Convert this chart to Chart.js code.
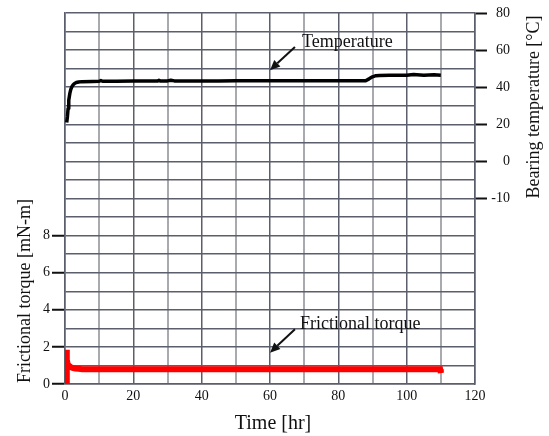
<!DOCTYPE html>
<html><head><meta charset="utf-8">
<script src="https://cdn.jsdelivr.net/npm/chart.js@4/dist/chart.umd.min.js"></script>
<style>html,body{margin:0;padding:0;background:#fff}#wrap{width:549px;height:436px}</style>
</head><body><div id="wrap"><canvas id="c" width="549" height="436"></canvas></div>
<script>
// ---- data ----
const tempTime  = [0.5, 0.7, 0.9, 1.1, 1.4, 1.7, 2.0, 2.4, 2.8, 3.3, 4.0, 5.0, 8, 10, 10.5, 11, 15, 20, 25, 27, 27.5, 28, 30, 31, 32, 35, 40, 45, 50, 55, 60, 65, 70, 75, 80, 85, 88, 89, 90, 91, 92, 95, 100, 102, 105, 108, 110];
const tempValue = [21, 24, 28.5, 33, 36.5, 38.8, 40.2, 41.3, 42, 42.5, 42.8, 43, 43.1, 43.2, 43.6, 43.2, 43.2, 43.3, 43.3, 43.3, 43.7, 43.3, 43.4, 43.7, 43.4, 43.4, 43.4, 43.4, 43.5, 43.5, 43.5, 43.5, 43.5, 43.5, 43.5, 43.5, 43.5, 44.5, 45.6, 46.2, 46.3, 46.4, 46.5, 46.8, 46.5, 46.7, 46.5];
const torqueTime  = [0.45, 0.5, 0.55, 0.7, 0.9, 1.2, 1.6, 2.2, 3, 4, 5, 7, 10, 15, 20, 25, 30, 35, 40, 45, 50, 55, 60, 65, 70, 75, 80, 85, 90, 95, 100, 105, 109.8, 110];
const torqueValue = [0, 1.85, 1.3, 1.15, 1.05, 0.98, 0.92, 0.87, 0.84, 0.82, 0.80, 0.80, 0.79, 0.80, 0.79, 0.80, 0.79, 0.79, 0.80, 0.79, 0.79, 0.79, 0.79, 0.79, 0.80, 0.79, 0.79, 0.79, 0.79, 0.80, 0.80, 0.79, 0.79, 0.60];
const xTickLabelValues = [0, 20, 40, 60, 80, 100, 120];
const torqueTickValues = [0, 2, 4, 6, 8];
const tempTickValues = [80, 60, 40, 20, 0, -20];
const tempTickLabels = ['80', '60', '40', '20', '0', '-10'];
const seriesNames = ['Temperature', 'Frictional torque'];
const axisTitles = {x: 'Time [hr]', torque: 'Frictional torque [mN-m]', temp: 'Bearing temperature [\u00B0C]'};

// ---- styling / annotation layout ----
const FONT = '"Liberation Serif", "Times New Roman", serif';
const DARK = '#5b5f6b', LIGHT = '#a9aab0', INK = '#111';
const annotations = [
  {text: seriesNames[0], axis: 'yT', tx: 69.4, ty: 64, from: [67.3, 61.7], to: [60, 49.2]},
  {text: seriesNames[1], axis: 'yL', tx: 68.8, ty: 3.23, from: [67.3, 2.95], to: [60, 1.69]}
];

const tempData = tempTime.map((t, i) => ({x: t, y: tempValue[i]}));
const torqueData = torqueTime.map((t, i) => ({x: t, y: torqueValue[i]}));

const drawExtras = {
  id: 'extras',
  afterDraw(chart) {
    const ctx = chart.ctx, sx = chart.scales.x;
    ctx.save();
    ctx.fillStyle = INK; ctx.strokeStyle = INK;
    ctx.font = '18px ' + FONT;
    ctx.textBaseline = 'middle'; ctx.textAlign = 'left';
    annotations.forEach(a => {
      const sy = chart.scales[a.axis];
      ctx.fillText(a.text, sx.getPixelForValue(a.tx), sy.getPixelForValue(a.ty));
      const x1 = sx.getPixelForValue(a.from[0]), y1 = sy.getPixelForValue(a.from[1]);
      const x2 = sx.getPixelForValue(a.to[0]), y2 = sy.getPixelForValue(a.to[1]);
      const ang = Math.atan2(y2 - y1, x2 - x1), hl = 10, hw = 4.5;
      const bx = x2 - hl * Math.cos(ang), by = y2 - hl * Math.sin(ang);
      ctx.lineWidth = 2;
      ctx.beginPath(); ctx.moveTo(x1, y1); ctx.lineTo(bx, by); ctx.stroke();
      ctx.beginPath();
      ctx.moveTo(x2, y2);
      ctx.lineTo(bx + hw * Math.sin(ang), by - hw * Math.cos(ang));
      ctx.lineTo(bx - hw * Math.sin(ang), by + hw * Math.cos(ang));
      ctx.closePath(); ctx.fill();
    });
    ctx.textAlign = 'center'; ctx.textBaseline = 'middle';
    ctx.font = '20px ' + FONT;
    ctx.fillText(axisTitles.x, 273, 424);
    ctx.font = '18px ' + FONT;
    ctx.save(); ctx.translate(25, 291); ctx.rotate(-Math.PI / 2); ctx.fillText(axisTitles.torque, 0, 0); ctx.restore();
    ctx.save(); ctx.translate(534, 107); ctx.rotate(-Math.PI / 2); ctx.fillText(axisTitles.temp, 0, 0); ctx.restore();
    ctx.restore();
  }
};

new Chart(document.getElementById('c'), {
  type: 'line',
  data: {
    datasets: [
      {label: seriesNames[0], data: tempData, yAxisID: 'yT', borderColor: '#000', borderWidth: 3.5, pointRadius: 0, tension: 0, borderJoinStyle: 'round'},
      {label: seriesNames[1], data: torqueData, yAxisID: 'yL', borderColor: '#ff0000', borderWidth: 6, pointRadius: 0, tension: 0}
    ]
  },
  options: {
    responsive: false, animation: false, events: [],
    layout: {padding: {top: 13, left: 0, right: 39, bottom: 0}},
    plugins: {legend: {display: false}, tooltip: {enabled: false}},
    scales: {
      x: {
        type: 'linear', min: 0, max: 120,
        afterBuildTicks: s => { const t = []; for (let v = 0; v <= 120; v += 10) t.push({value: v}); s.ticks = t; },
        afterFit: s => { s.height = 52; },
        ticks: {font: {family: FONT, size: 14}, color: INK, padding: 4, maxRotation: 0, autoSkip: false,
          callback: v => xTickLabelValues.includes(v) ? String(v) : ''},
        grid: {drawTicks: false,
          color: c => (c.tick && c.tick.value % 20 === 10) ? LIGHT : DARK,
          lineWidth: c => (c.tick && c.tick.value % 20 === 10) ? 2 : 1.5},
        border: {color: DARK, width: 1.5}
      },
      yL: {
        type: 'linear', position: 'left', min: 0, max: 20,
        afterBuildTicks: s => { const t = []; for (let v = 0; v <= 20; v += 1) t.push({value: v}); s.ticks = t; },
        afterFit: s => { s.width = 65; },
        ticks: {font: {family: FONT, size: 14}, color: INK, padding: 2, autoSkip: false,
          callback: v => torqueTickValues.includes(v) ? String(v) : ''},
        grid: {color: DARK, lineWidth: 1.5, tickLength: 13, tickWidth: 2,
          tickColor: c => (c.tick && torqueTickValues.includes(c.tick.value)) ? INK : 'rgba(0,0,0,0)'},
        border: {color: DARK, width: 1.5}
      },
      yT: {
        type: 'linear', position: 'right', min: -120, max: 80,
        afterBuildTicks: s => { s.ticks = tempTickValues.map(v => ({value: v})); },
        afterFit: s => { s.width = 35; },
        ticks: {font: {family: FONT, size: 14}, color: INK, padding: 4, crossAlign: 'far', autoSkip: false,
          callback: (v, i) => tempTickLabels[tempTickValues.indexOf(v)]},
        grid: {drawOnChartArea: false, tickLength: 12, tickWidth: 2, tickColor: INK},
        border: {color: DARK, width: 1.5}
      }
    }
  },
  plugins: [drawExtras]
});
</script>
</body></html>
